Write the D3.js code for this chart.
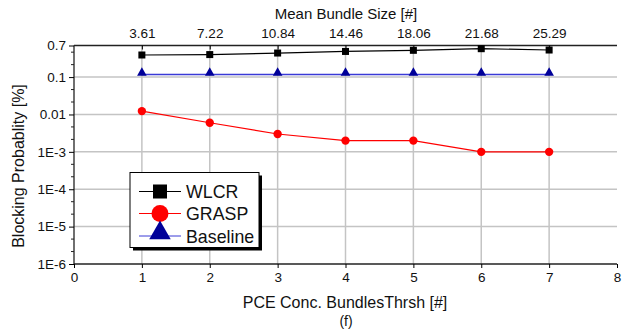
<!DOCTYPE html>
<html><head><meta charset="utf-8">
<script src="https://cdn.jsdelivr.net/npm/d3@7"></script>
<style>body{margin:0;background:#fff}svg{display:block;font-family:"Liberation Sans",Arial,sans-serif}</style>
</head><body><svg id="c" width="635" height="332"></svg>
<script>
const xValues = [1,2,3,4,5,6,7];
const topTickLabels = ["3.61","7.22","10.84","14.46","18.06","21.68","25.29"];
const wlcr = [0.39,0.40,0.44,0.485,0.52,0.575,0.53];
const grasp = [0.0123,0.006,0.003,0.002,0.002,0.001,0.001];
const baseline = [0.118,0.118,0.118,0.118,0.118,0.118,0.118];
const yTickValues = [0.7,0.1,0.01,1e-3,1e-4,1e-5,1e-6];
const yTickLabels = ["0.7","0.1","0.01","1E-3","1E-4","1E-5","1E-6"];
const seriesNames = ["WLCR","GRASP","Baseline"];

const svg = d3.select("#c");
const m = {l:74, r:617, t:45.5, b:264};
const x = d3.scaleLinear().domain([0,8]).range([m.l,m.r]);
const y = d3.scaleLog().domain([1e-6,0.7]).range([m.b,m.t]);
const grid = "#c4c4c4";

// gridlines
svg.append("g").selectAll("line").data(xValues).join("line")
  .attr("x1",d=>x(d)).attr("x2",d=>x(d)).attr("y1",m.t).attr("y2",m.b)
  .attr("stroke",grid).attr("stroke-width",1.5);
svg.append("g").selectAll("line").data(yTickValues.slice(1,-1)).join("line")
  .attr("x1",m.l).attr("x2",m.r).attr("y1",d=>y(d)).attr("y2",d=>y(d))
  .attr("stroke",grid).attr("stroke-width",1.5);

// bottom axis
const xAxis = d3.axisBottom(x).tickValues(d3.range(0,9)).tickFormat(d3.format("d")).tickSize(4).tickPadding(4);
const gx = svg.append("g").attr("transform",`translate(0,${m.b})`).call(xAxis);
gx.select(".domain").attr("d",`M${m.l},0H${m.r}`).attr("stroke","#222").attr("stroke-width",1.3);
gx.selectAll("text").attr("font-size",13.5).attr("fill","#111");

// top axis
const xTop = d3.axisTop(x).tickValues(xValues).tickFormat((d,i)=>topTickLabels[i]).tickSizeInner(-4).tickSizeOuter(0).tickPadding(8);
const gt = svg.append("g").attr("transform",`translate(0,${m.t})`).call(xTop);
gt.select(".domain").attr("d",`M${m.l},0H${m.r}`).attr("stroke","#222").attr("stroke-width",1.3);
gt.selectAll("text").attr("font-size",13.5).attr("fill","#111");

// left axis
const yAxis = d3.axisLeft(y).tickValues(yTickValues).tickFormat((d,i)=>yTickLabels[i]).tickSize(5).tickSizeOuter(0).tickPadding(3);
const gy = svg.append("g").attr("transform",`translate(${m.l},0)`).call(yAxis);
gy.select(".domain").attr("d",`M0,${m.t}V${m.b}`).attr("stroke","#222").attr("stroke-width",1.3);
gy.selectAll("text").attr("font-size",13.5).attr("fill","#111");
// minor ticks at thirds of decades
const minor = [];
for (let k=-6;k<0;k++){ minor.push(Math.pow(10,k+1/3), Math.pow(10,k+2/3)); }
svg.append("g").selectAll("line").data(minor.filter(v=>v<0.7)).join("line")
  .attr("x1",m.l-3).attr("x2",m.l).attr("y1",d=>y(d)).attr("y2",d=>y(d))
  .attr("stroke","#222").attr("stroke-width",1);

// titles
svg.append("text").attr("x",346).attr("y",19).attr("text-anchor","middle")
  .attr("font-size",15).attr("fill","#111").text("Mean Bundle Size [#]");
svg.append("text").attr("x",345).attr("y",308).attr("text-anchor","middle")
  .attr("font-size",16).attr("fill","#111").text("PCE Conc. BundlesThrsh [#]");
svg.append("text").attr("x",346).attr("y",326).attr("text-anchor","middle")
  .attr("font-size",14).attr("fill","#111").text("(f)");
svg.append("text").attr("transform",`translate(24,166) rotate(-90)`).attr("text-anchor","middle")
  .attr("font-size",16).attr("fill","#111").text("Blocking Probablity [%]");

const line = d3.line().x((d,i)=>x(xValues[i])).y(d=>y(d));
const tri = d3.symbol().type(d3.symbolTriangle);

// series
svg.append("path").datum(wlcr).attr("d",line).attr("fill","none").attr("stroke","#000").attr("stroke-width",1.2);
svg.append("path").datum(grasp).attr("d",line).attr("fill","none").attr("stroke","#ff0000").attr("stroke-width",1.2);
svg.append("path").datum(baseline).attr("d",line).attr("fill","none").attr("stroke","#3a3ad6").attr("stroke-width",1.5);

svg.append("g").selectAll("rect").data(wlcr).join("rect")
  .attr("x",(d,i)=>x(xValues[i])-3.5).attr("y",d=>y(d)-3.5).attr("width",7).attr("height",7).attr("fill","#000");
svg.append("g").selectAll("circle").data(grasp).join("circle")
  .attr("cx",(d,i)=>x(xValues[i])).attr("cy",d=>y(d)).attr("r",4.2).attr("fill","#ff0000");
svg.append("g").selectAll("path").data(baseline).join("path")
  .attr("transform",(d,i)=>`translate(${x(xValues[i])},${y(d)-1.5})`).attr("d",tri.size(40)()).attr("fill","#000099");

// legend
const lg = svg.append("g");
lg.append("rect").attr("x",133).attr("y",175.5).attr("width",129).attr("height",75).attr("fill","#000");
lg.append("rect").attr("x",130).attr("y",172.5).attr("width",129).attr("height",75).attr("fill","#fff").attr("stroke","#000").attr("stroke-width",1);
const rows = [191.5,213.5,236];
const cols = ["#000","#ff0000","#3a3ad6"];
seriesNames.forEach((n,i)=>{
  lg.append("line").attr("x1",139).attr("x2",181).attr("y1",rows[i]).attr("y2",rows[i]).attr("stroke",cols[i]).attr("stroke-width",1);
  lg.append("text").attr("x",186).attr("y",rows[i]+6.5).attr("font-size",17.8).attr("fill","#111").text(n);
});
lg.append("rect").attr("x",153).attr("y",rows[0]-7).attr("width",14).attr("height",14).attr("fill","#000");
lg.append("circle").attr("cx",160).attr("cy",rows[1]).attr("r",8.5).attr("fill","#ff0000");
lg.append("path").attr("transform",`translate(160,${rows[2]-3})`).attr("d",tri.size(200)()).attr("fill","#000099");
</script></body></html>
